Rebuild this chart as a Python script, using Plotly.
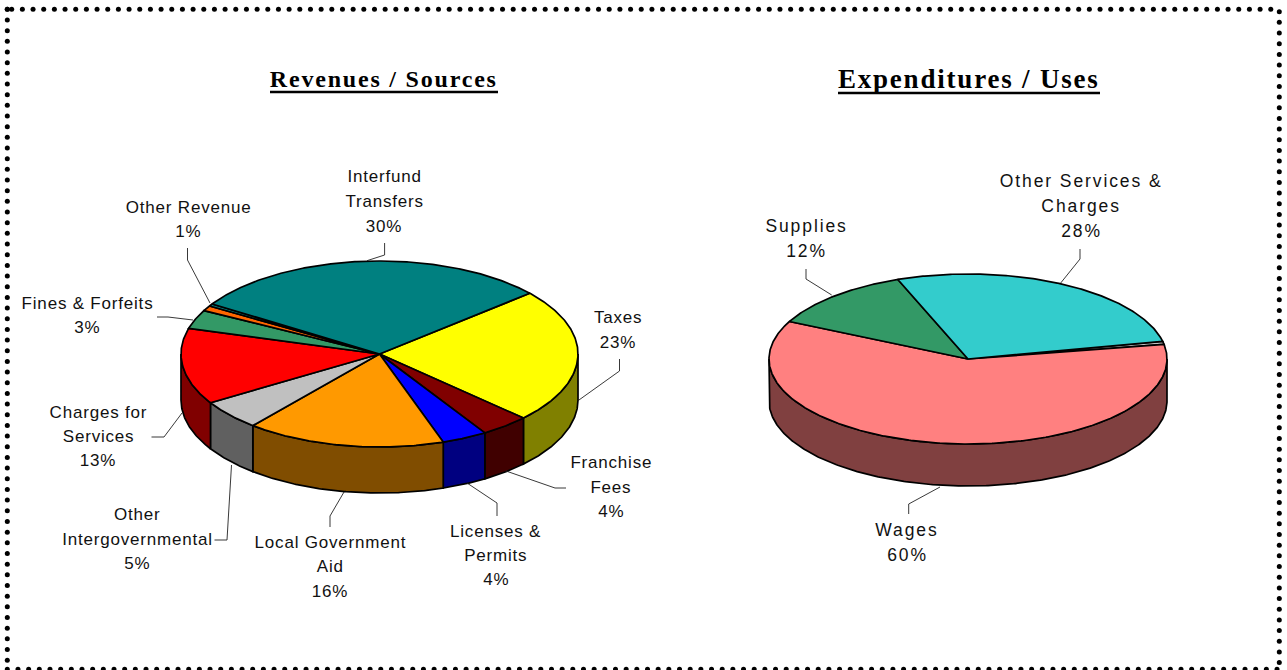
import numpy as np
import plotly.graph_objects as go

# ---- data ----
rev_names = ["Taxes", "Franchise Fees", "Licenses & Permits", "Local Government Aid",
             "Other Intergovernmental", "Charges for Services", "Fines & Forfeits",
             "Other Revenue", "(sliver)", "Interfund Transfers"]
rev_values = [23.4, 4.0, 3.7, 16.2, 5.2, 13.2, 3.3, 0.9, 0.4, 29.6]
rev_colors = ["#FFFF00", "#800000", "#0000FF", "#FF9900", "#C0C0C0",
              "#FF0000", "#339966", "#FF6600", "#008080", "#008080"]
rev_sides = ["#808000", "#400000", "#000080", "#804D00", "#606060",
             "#800000", "#1A4D33", "#803300", "#004040", "#004040"]

exp_names = ["(sliver)", "Wages", "Supplies", "Other Services & Charges"]
exp_values = [0.6, 60.0, 12.0, 27.4]
exp_colors = ["#C0C0C0", "#FF8080", "#339966", "#33CCCC"]
exp_sides = ["#606060", "#804040", "#1A4D33", "#1A6666"]

# ---- geometry ----
REV = dict(cx=379.5, cy=354, rx=198.5, ry=93, depth=46, start=49.2)
EXP = dict(cx=968, cy=359, rx=199, ry=85, depth=42, start=78.0)

rev_labels = [
    (["Interfund", "Transfers", "30%"], 384, [176, 201, 226]),
    (["Taxes", "23%"], 618, [317, 342]),
    (["Franchise", "Fees", "4%"], 611, [462, 487, 511]),
    (["Licenses &", "Permits", "4%"], 496, [531, 555, 579]),
    (["Local Government", "Aid", "16%"], 330, [542, 566, 591]),
    (["Other", "Intergovernmental", "5%"], 137, [514, 539, 563]),
    (["Charges for", "Services", "13%"], 98, [412, 436, 460]),
    (["Fines & Forfeits", "3%"], 87, [303, 327]),
    (["Other Revenue", "1%"], 188, [207, 231]),
]
exp_labels = [
    (["Other Services &", "Charges", "28%"], 1081, [181, 206, 231]),
    (["Supplies", "12%"], 806, [226, 251]),
    (["Wages", "60%"], 907, [530, 555]),
]
leaders = [
    ([367, 384.6, 384.6], [260.7, 255, 243]),
    ([578, 619.5, 619.5], [400.7, 371, 359]),
    ([506, 555, 566], [471, 488, 488]),
    ([467, 497, 497], [483, 503, 516]),
    ([344, 330, 330], [492, 516, 527]),
    ([231.5, 227, 214.5], [465, 540, 540]),
    ([182, 164, 151.5], [413, 437, 437]),
    ([193, 168, 157], [320, 317, 317]),
    ([210, 187.5, 187.5], [303, 260, 248]),
    ([1060.7, 1080, 1080], [283, 259, 249]),
    ([831.7, 806, 806], [295, 279, 269]),
    ([940, 908.7, 908.7], [487, 504, 514]),
]

fig = go.Figure()


def ell(g, deg, dy=0.0):
    a = np.radians(deg)
    return g["cx"] + g["rx"] * np.sin(a), g["cy"] - g["ry"] * np.cos(a) + dy


def add_pie(g, values, colors, sides, names):
    v = np.array(values, float)
    edges = g["start"] + np.concatenate([[0], np.cumsum(v / v.sum() * 360)])
    for i in range(len(v)):
        for k in (0, 360):
            a0 = max(edges[i], 90 + k)
            a1 = min(edges[i + 1], 270 + k)
            if a1 <= a0:
                continue
            t = np.linspace(a0, a1, max(int((a1 - a0) * 2), 2))
            x0, y0 = ell(g, t)
            x1, y1 = ell(g, t[::-1], g["depth"])
            fig.add_trace(go.Scatter(
                x=np.r_[x0, x1, x0[0]], y=np.r_[y0, y1, y0[0]], mode="lines",
                fill="toself", fillcolor=sides[i], line=dict(color="black", width=1.7),
                hoverinfo="skip", showlegend=False))
    for i in range(len(v)):
        t = np.linspace(edges[i], edges[i + 1], max(int((edges[i + 1] - edges[i]) * 2), 3))
        x, y = ell(g, t)
        fig.add_trace(go.Scatter(
            x=np.r_[g["cx"], x, g["cx"]], y=np.r_[g["cy"], y, g["cy"]], mode="lines",
            fill="toself", fillcolor=colors[i], line=dict(color="black", width=1.7),
            name=names[i], hoverinfo="name", showlegend=False))


add_pie(REV, rev_values, rev_colors, rev_sides, rev_names)
add_pie(EXP, exp_values, exp_colors, exp_sides, exp_names)

for lx, ly in leaders:
    fig.add_trace(go.Scatter(x=lx, y=ly, mode="lines", line=dict(color="#222222", width=0.9),
                             hoverinfo="skip", showlegend=False))

# dotted border
step = 10.67
top_x = 11.7 + step * np.arange(119)
left_y = 9.3 + step * np.arange(62)
right_y = 11.7 + step * np.arange(62)
bottom_x = 7.3 + step * np.arange(120)
bx = np.r_[[7.3], top_x, np.full(left_y.size, 7.3), np.full(right_y.size, 1279.3), bottom_x]
by = np.r_[[9.3], np.full(top_x.size, 9.3), left_y, right_y, np.full(bottom_x.size, 669.3)]
fig.add_trace(go.Scatter(x=bx, y=by, mode="markers", marker=dict(color="black", size=5),
                         hoverinfo="skip", showlegend=False))

anns = []
for labels, font_size in ((rev_labels, 17), (exp_labels, 17.5)):
    for lines, x, ys in labels:
        for s, y in zip(lines, ys):
            anns.append(dict(x=x, y=y, xref="x", yref="y", text=s, showarrow=False,
                             xanchor="center", yanchor="middle",
                             font=dict(family="Liberation Sans", size=font_size, color="#111111")))
anns.append(dict(x=384, y=79, xref="x", yref="y", text="<b>Revenues / Sources</b>", showarrow=False,
                 font=dict(family="Liberation Serif", size=24, color="black")))
anns.append(dict(x=969, y=79, xref="x", yref="y", text="<b>Expenditures / Uses</b>", showarrow=False,
                 font=dict(family="Liberation Serif", size=27, color="black")))

shapes = [dict(type="line", xref="x", yref="y", x0=270, x1=498, y0=92, y1=92, line=dict(color="black", width=2.5)),
          dict(type="line", xref="x", yref="y", x0=838, x1=1100, y0=93, y1=93, line=dict(color="black", width=2.5))]

fig.update_layout(
    width=1287, height=670, margin=dict(l=0, r=0, t=0, b=0),
    paper_bgcolor="white", plot_bgcolor="white", showlegend=False,
    xaxis=dict(range=[0, 1287], visible=False, fixedrange=True),
    yaxis=dict(range=[670, 0], visible=False, fixedrange=True),
    annotations=anns, shapes=shapes,
)

# Page tweaks: no body margin, and the reference's letter spacing per text size.
post = """
document.body.style.margin = '0';
document.documentElement.style.overflow = 'hidden';
var sp = {'17px': '0.8px', '17.5px': '1.9px', '24px': '1.8px', '27px': '1.8px'};
document.querySelectorAll('.annotation-text').forEach(function (t) {
  var s = sp[t.style.fontSize];
  if (s) { t.style.letterSpacing = s; }
});
"""
fig.write_html("out.html", config=dict(displayModeBar=False), post_script=post)
